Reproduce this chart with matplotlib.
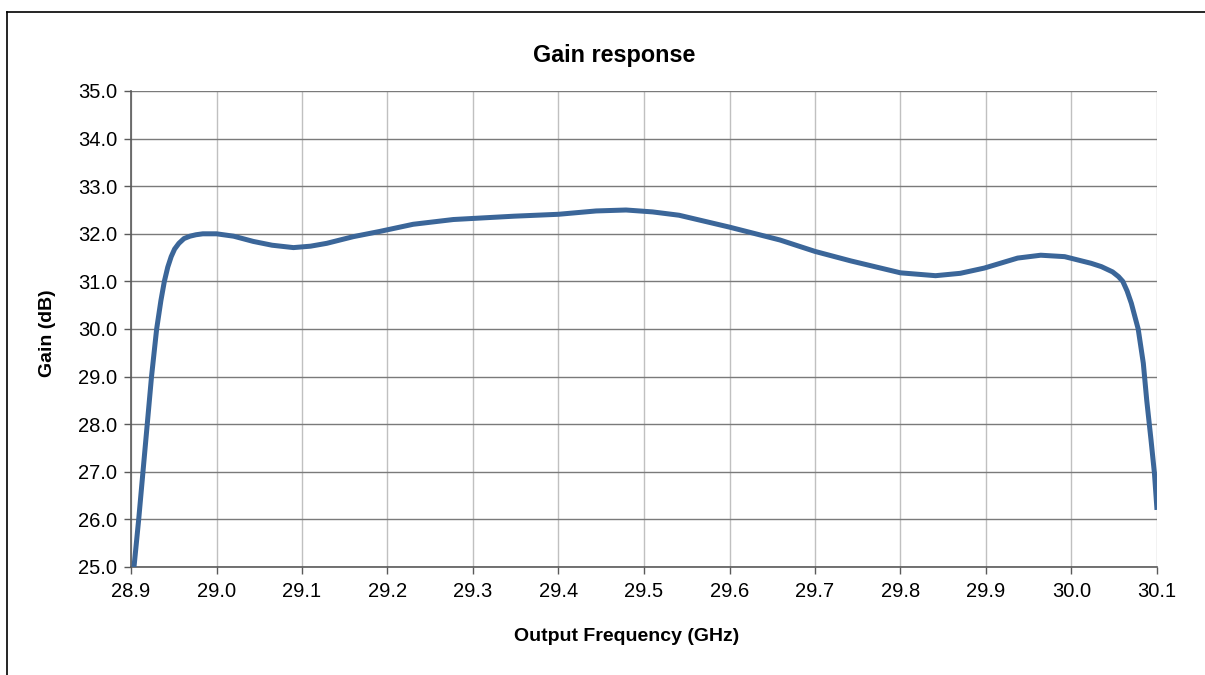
import numpy as np
from matplotlib import pyplot as plt
from matplotlib.lines import Line2D

# values
freq_ghz = [28.9035, 28.909, 28.914, 28.919, 28.924, 28.930, 28.935, 28.939, 28.943, 28.947,
            28.951, 28.956, 28.962, 28.969, 28.976, 28.984, 29.0, 29.02, 29.043, 29.065,
            29.090, 29.110, 29.129, 29.160, 29.191, 29.230, 29.277, 29.348, 29.4, 29.444,
            29.479, 29.510, 29.541, 29.6, 29.659, 29.70, 29.742, 29.800, 29.841, 29.870,
            29.898, 29.937, 29.964, 29.992, 30.023, 30.035, 30.048, 30.055, 30.060, 30.065,
            30.070, 30.078, 30.084, 30.088, 30.093, 30.097, 30.100]
gain_db = [25.0, 26.0, 27.0, 28.0, 29.0, 30.0, 30.6, 31.0, 31.3, 31.52,
           31.68, 31.80, 31.90, 31.95, 31.98, 32.0, 32.0, 31.95, 31.84, 31.76,
           31.71, 31.74, 31.80, 31.94, 32.05, 32.20, 32.30, 32.37, 32.41, 32.48,
           32.50, 32.46, 32.39, 32.14, 31.87, 31.63, 31.43, 31.18, 31.12, 31.17,
           31.28, 31.49, 31.55, 31.52, 31.38, 31.31, 31.20, 31.10, 31.0, 30.8,
           30.54, 30.0, 29.28, 28.5, 27.67, 26.97, 26.2]

x_ticks = [28.9, 29.0, 29.1, 29.2, 29.3, 29.4, 29.5, 29.6, 29.7, 29.8, 29.9, 30.0, 30.1]
y_ticks = [25.0, 26.0, 27.0, 28.0, 29.0, 30.0, 31.0, 32.0, 33.0, 34.0, 35.0]

plt.rcParams['font.family'] = ['Liberation Sans', 'DejaVu Sans']

fig = plt.figure(figsize=(12.05, 6.75), dpi=100)
ax = fig.add_axes([131 / 1205, 1 - 567 / 675, (1157 - 131) / 1205, (567 - 91) / 675])

ax.plot(freq_ghz, gain_db, color="#3b6699", lw=3.6, solid_capstyle="butt",
        solid_joinstyle="round", zorder=3)

ax.set_xlim(28.9, 30.1)
ax.set_ylim(25.0, 35.0)
ax.set_xticks(x_ticks)
ax.set_yticks(y_ticks)
ax.set_xticklabels([f"{v:.1f}" for v in x_ticks])
ax.set_yticklabels([f"{v:.1f}" for v in y_ticks])
ax.tick_params(labelsize=14.5, length=5, width=1, color="#5a5a5a")
ax.tick_params(axis="y", pad=5)
ax.tick_params(axis="x", pad=6)

ax.grid(True, axis="y", color="#7a7a7a", lw=1)
ax.grid(True, axis="x", color="#c0c0c0", lw=1)
ax.set_axisbelow(True)
for side in ["top", "right"]:
    ax.spines[side].set_visible(False)
for side in ["left", "bottom"]:
    ax.spines[side].set_color("#5a5a5a")
    ax.spines[side].set_linewidth(1.2)

fig.text(0.5094, 1 - 61.7 / 675, "Gain response", ha="center", va="baseline",
         fontsize=16.8, fontweight="bold")
fig.text(0.520, 1 - 640.7 / 675, "Output Frequency (GHz)", ha="center", va="baseline",
         fontsize=14, fontweight="bold")
fig.text(48 / 1205, 1 - 333 / 675, "Gain (dB)", ha="center", va="center",
         rotation=90, fontsize=14, fontweight="bold")

# outer frame (left and top edges are visible in the reference)
fig.add_artist(Line2D([7.5 / 1205, 7.5 / 1205], [0, 1 - 11.5 / 675], color="black", lw=1.2))
fig.add_artist(Line2D([7.5 / 1205, 1], [1 - 11.5 / 675, 1 - 11.5 / 675], color="black", lw=1.2))

fig.savefig("out.png", dpi=100)
